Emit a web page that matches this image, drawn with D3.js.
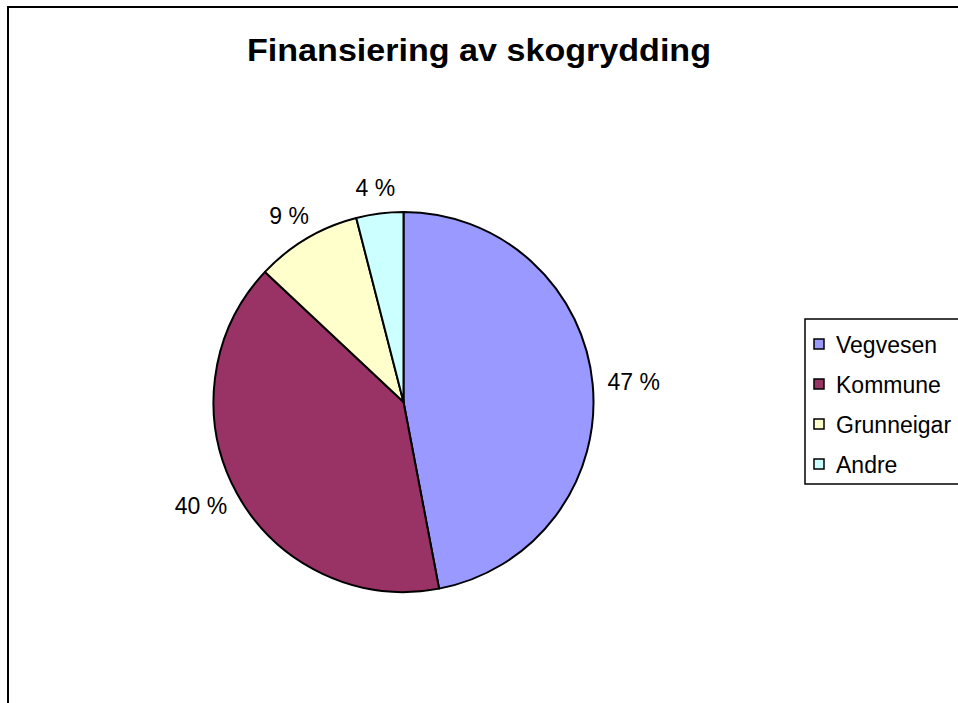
<!DOCTYPE html>
<html>
<head>
<meta charset="utf-8">
<script src="https://cdn.jsdelivr.net/npm/d3@7"></script>
<style>
  html, body { margin: 0; padding: 0; background: #fff; }
  svg { display: block; font-family: "Liberation Sans", Arial, sans-serif; }
</style>
</head>
<body>
<svg id="chart" width="958" height="703"></svg>
<script>
// Share of funding for forest clearing, by source (percent)
const categories = ["Vegvesen", "Kommune", "Grunneigar", "Andre"];
const values = [47, 40, 9, 4];
const colors = ["#9999FF", "#993366", "#FFFFCC", "#CCFFFF"];
const title = "Finansiering av skogrydding";

const svg = d3.select("#chart");

// Outer chart frame (runs past the right and bottom edges)
svg.append("rect")
  .attr("x", 8).attr("y", 7)
  .attr("width", 980).attr("height", 720)
  .attr("fill", "#fff")
  .attr("stroke", "#000")
  .attr("stroke-width", 2);

svg.append("text")
  .attr("x", 479).attr("y", 61)
  .attr("text-anchor", "middle")
  .attr("font-size", 31)
  .attr("font-weight", "bold")
  .attr("textLength", 464)
  .attr("lengthAdjust", "spacingAndGlyphs")
  .text(title);

const cx = 403.5, cy = 402, r = 190;
const data = categories.map((c, i) => ({ name: c, value: values[i], color: colors[i] }));

const pie = d3.pie().value(d => d.value).sort(null);
const arcs = pie(data);
const arc = d3.arc().innerRadius(0).outerRadius(r);

const g = svg.append("g").attr("transform", `translate(${cx},${cy})`);
g.selectAll("path")
  .data(arcs)
  .join("path")
  .attr("d", arc)
  .attr("fill", d => d.data.color)
  .attr("stroke", "#000")
  .attr("stroke-width", 2)
  .attr("stroke-linejoin", "round");

// Percentage labels: the label box sits a fixed gap outside the rim,
// pushed outward by half its width/height along the slice's mid-angle
const labelFont = 23, gap = 15, halfH = 11;
g.selectAll("text.pct")
  .data(arcs)
  .join("text")
  .attr("class", "pct")
  .attr("font-size", labelFont)
  .attr("text-anchor", "middle")
  .attr("dominant-baseline", "central")
  .text(d => d.data.value + " %")
  .each(function (d) {
    const a = (d.startAngle + d.endAngle) / 2;
    const halfW = this.getComputedTextLength() / 2;
    const s = Math.sin(a), c = Math.cos(a);
    d3.select(this)
      .attr("x", (r + gap) * s + halfW * s)
      .attr("y", -(r + gap) * c - halfH * c);
  });

// Legend
const legend = svg.append("g");
legend.append("rect")
  .attr("x", 805).attr("y", 319)
  .attr("width", 200).attr("height", 165)
  .attr("fill", "#fff")
  .attr("stroke", "#000")
  .attr("stroke-width", 1.5);

const rowY = d3.scalePoint().domain(categories).range([344, 464]);
const rows = legend.selectAll("g.row")
  .data(data)
  .join("g")
  .attr("class", "row")
  .attr("transform", d => `translate(0,${rowY(d.name)})`);
rows.append("rect")
  .attr("x", 814).attr("y", -5)
  .attr("width", 10).attr("height", 10)
  .attr("fill", d => d.color)
  .attr("stroke", "#000")
  .attr("stroke-width", 1.5);
rows.append("text")
  .attr("x", 836).attr("y", 1)
  .attr("dominant-baseline", "central")
  .attr("font-size", 23)
  .text(d => d.name);
</script>
</body>
</html>
